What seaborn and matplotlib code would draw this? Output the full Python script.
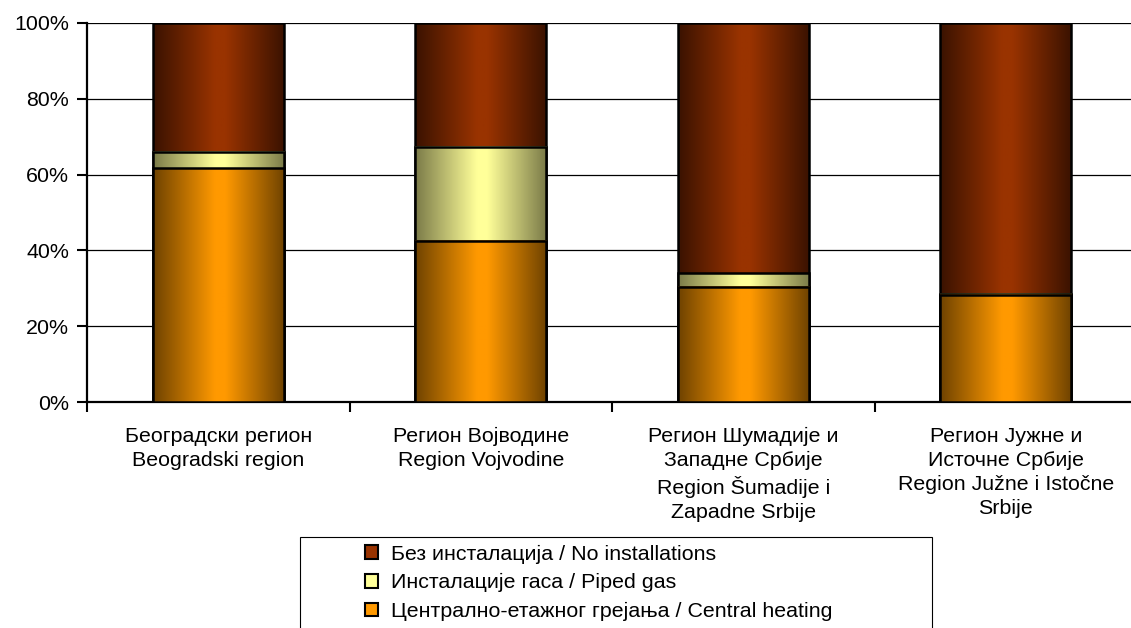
import numpy as np
import pandas as pd
import matplotlib
matplotlib.use("Agg")
import matplotlib.pyplot as plt
from matplotlib.colors import LinearSegmentedColormap
from matplotlib.patches import Rectangle
import seaborn as sns

# Data (percent of dwellings)
regions = [
    "Београдски регион\nBeogradski region",
    "Регион Војводине\nRegion Vojvodine",
    "Регион Шумадије и\nЗападне Србије\nRegion Šumadije i\nZapadne Srbije",
    "Регион Јужне и\nИсточне Србије\nRegion Južne i Istočne\nSrbije",
]
central_heating = [61.7, 42.5, 30.4, 28.3]
piped_gas = [4.3, 24.8, 3.6, 0.2]
no_installations = [34.0, 32.7, 66.0, 71.5]

legend_labels = [
    "Без инсталација / No installations",
    "Инсталације гаса / Piped gas",
    "Централно-етажног грејања / Central heating",
]

# (base colour, edge-shade colour) per series
COL_NONE = ("#993300", "#3a1200")
COL_GAS = ("#ffff99", "#7a7a48")
COL_CENTRAL = ("#ff9900", "#6e4200")

FS = 15.4

sns.set_theme(style="white")
plt.rcParams["font.family"] = ["Liberation Sans", "DejaVu Sans"]
plt.rcParams["text.color"] = "black"
plt.rcParams["xtick.color"] = "black"
plt.rcParams["ytick.color"] = "black"

df = pd.DataFrame({
    "region": regions,
    "central": central_heating,
    "gas": piped_gas,
    "none": no_installations,
})
df["gas_top"] = df["central"] + df["gas"]
df["total"] = df["gas_top"] + df["none"]

fig = plt.figure(figsize=(11.31, 6.28), dpi=100)
ax = fig.add_axes([87 / 1131, 226 / 628, 1050 / 1131, 379 / 628])

layers = [("total", COL_NONE), ("gas_top", COL_GAS), ("central", COL_CENTRAL)]
gradient = np.linspace(0, 1, 256).reshape(1, -1)

for i, (col, (base, dark)) in enumerate(layers):
    n_before = len(ax.patches)
    sns.barplot(data=df, x="region", y=col, color=base, width=0.5,
                saturation=1, errorbar=None, edgecolor="black",
                linewidth=1.8, ax=ax, zorder=3 + 2 * i)
    cmap = LinearSegmentedColormap.from_list(
        col, [(0, dark), (0.47, base), (0.55, base), (1, dark)])
    for p in ax.patches[n_before:]:
        x0, y0 = p.get_x(), p.get_y()
        w, h = p.get_width(), p.get_height()
        ax.imshow(gradient, cmap=cmap, aspect="auto", interpolation="bilinear",
                  extent=[x0, x0 + w, y0, y0 + h], zorder=p.get_zorder() - 0.5)
        p.set_facecolor("none")

ax.set_xlim(-0.5, 3.5)
ax.set_ylim(0, 100)
ax.set_xlabel("")
ax.set_ylabel("")

ax.set_yticks(range(0, 101, 20))
ax.set_yticklabels([f"{v}%" for v in range(0, 101, 20)], fontsize=FS)
ax.yaxis.grid(True, color="black", linewidth=0.9)
ax.set_axisbelow(True)

ax.set_xticks(range(len(regions)))
ax.set_xticklabels(regions, fontsize=FS, linespacing=1.33)
ax.set_xticks([-0.5, 0.5, 1.5, 2.5, 3.5], minor=True)
ax.tick_params(axis="x", which="major", length=0, pad=18)
ax.tick_params(axis="x", which="minor", length=7, width=1.5, color="black",
               direction="out", bottom=True)
ax.tick_params(axis="y", length=7, width=1.5, color="black", direction="out",
               left=True, pad=6)

for side in ["top", "right"]:
    ax.spines[side].set_visible(False)
for side in ["left", "bottom"]:
    ax.spines[side].set_color("black")
    ax.spines[side].set_linewidth(1.6)

# legend with a box that runs off the bottom edge, like the reference
handles = [Rectangle((0, 0), 1, 1, facecolor=c[0], edgecolor="black", linewidth=1.5)
           for c in (COL_NONE, COL_GAS, COL_CENTRAL)]
fig.legend(handles, legend_labels, loc="upper left",
           bbox_to_anchor=(356 / 1131, 1 - 536 / 628), frameon=False,
           fontsize=FS, handlelength=0.62, handleheight=0.62,
           handletextpad=0.62, labelspacing=0.45, borderaxespad=0)
fig.add_artist(Rectangle((300 / 1131, -0.05), 632 / 1131, 91 / 628 + 0.05,
                         transform=fig.transFigure, fill=False,
                         edgecolor="black", linewidth=0.8))

fig.savefig("out.png", dpi=100)
